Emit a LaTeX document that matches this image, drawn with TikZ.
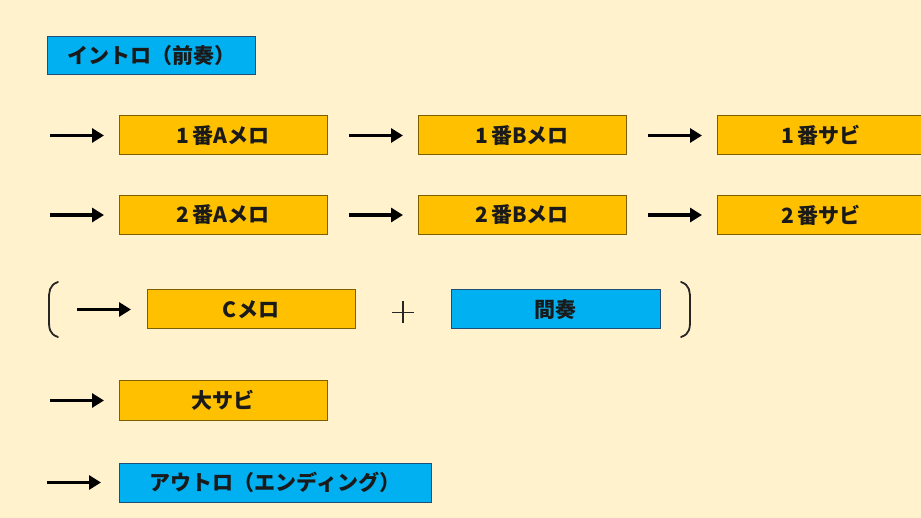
\documentclass[tikz,border=0pt]{standalone}
\usepackage{fontspec}
\newfontfamily\jp{Noto Sans CJK JP}
\usetikzlibrary{arrows.meta}
\definecolor{bgc}{HTML}{FFF2CC}
\definecolor{orangefill}{HTML}{FFC000}
\definecolor{orangeline}{HTML}{7F6000}
\definecolor{bluefill}{HTML}{00B0F0}
\definecolor{blueline}{HTML}{1F4E79}
\definecolor{txt}{HTML}{1A1A1A}
\tikzset{
  jpfont/.style={font=\jp\bfseries\fontsize{21}{21}\selectfont, text=txt},
  basebox/.style={draw, line width=1pt, inner sep=0pt, outer sep=0pt, minimum height=39pt, jpfont},
  obox/.style={basebox, fill=orangefill, draw=orangeline},
  bbox/.style={basebox, fill=bluefill, draw=blueline},
  arr/.style={line width=3.6pt, draw=black, -{Triangle[length=12pt,width=14pt]}},
  brk/.style={line width=1.8pt, draw=black!85, line cap=round},
  plusline/.style={line width=1.8pt, draw=black!85},
}
\begin{document}
\begin{tikzpicture}[x=1pt,y=-1pt]
\useasboundingbox (0,0) rectangle (921,518);
\fill[bgc] (0,0) rectangle (921,518);
% intro
\node[bbox, minimum width=208pt, minimum height=38pt] (intro) at (151,56) {イントロ（前奏）};
% row 1
\node[obox, minimum width=208pt] (a1) at (223,135.5) {1\,番Aメロ};
\node[obox, minimum width=208pt] (b1) at (522,135.5) {1\,番Bメロ};
\node[obox, minimum width=208pt, anchor=west] (s1) at (717,135.5) {};
\node[jpfont] (s1t) at (821,135.5) {1\,番サビ};
\coordinate (r1a) at (50,135.5); \coordinate (r1ae) at (104,135.5);
\coordinate (r1b) at (349,135.5); \coordinate (r1be) at (403,135.5);
\coordinate (r1c) at (648,135.5); \coordinate (r1ce) at (702,135.5);
\draw[arr] (r1a) -- (r1ae);
\draw[arr] (r1b) -- (r1be);
\draw[arr] (r1c) -- (r1ce);
% row 2
\node[obox, minimum width=208pt] (a2) at (223,215) {2\,番Aメロ};
\node[obox, minimum width=208pt] (b2) at (522,215) {2\,番Bメロ};
\node[obox, minimum width=208pt, anchor=west] (s2) at (717,215) {};
\node[jpfont] (s2t) at (821,215) {2\,番サビ};
\coordinate (r2a) at (50,215); \coordinate (r2ae) at (104,215);
\coordinate (r2b) at (349,215); \coordinate (r2be) at (403,215);
\coordinate (r2c) at (648,215); \coordinate (r2ce) at (702,215);
\draw[arr] (r2a) -- (r2ae);
\draw[arr] (r2b) -- (r2be);
\draw[arr] (r2c) -- (r2ce);
% row 3
\node[obox, minimum width=208pt] (c) at (251,309.5) {Cメロ};
\node[bbox, minimum width=209pt] (kan) at (555.5,309.5) {間奏};
\coordinate (plus) at (403,312.5);
\draw[plusline] ([xshift=-11pt]plus) -- ([xshift=11pt]plus);
\draw[plusline] ([yshift=-11pt]plus) -- ([yshift=11pt]plus);
\coordinate (r3a) at (77,309.5); \coordinate (r3ae) at (131,309.5);
\draw[arr] (r3a) -- (r3ae);
\draw[brk] (58,282) .. controls (49,285) and (49,292) .. (49,300) -- (49,319) .. controls (49,328) and (49,334) .. (58,337);
\draw[brk] (681,282) .. controls (690,285) and (690,292) .. (690,300) -- (690,319) .. controls (690,328) and (690,334) .. (681,337);
% row 4
\node[obox, minimum width=208pt] (oo) at (223,400.5) {大サビ};
\coordinate (r4a) at (50,400.5); \coordinate (r4ae) at (104,400.5);
\draw[arr] (r4a) -- (r4ae);
% row 5
\node[bbox, minimum width=312pt] (out) at (275,482.5) {アウトロ（エンディング）};
\coordinate (r5a) at (47,482.5); \coordinate (r5ae) at (101,482.5);
\draw[arr] (r5a) -- (r5ae);
\end{tikzpicture}
\end{document}
